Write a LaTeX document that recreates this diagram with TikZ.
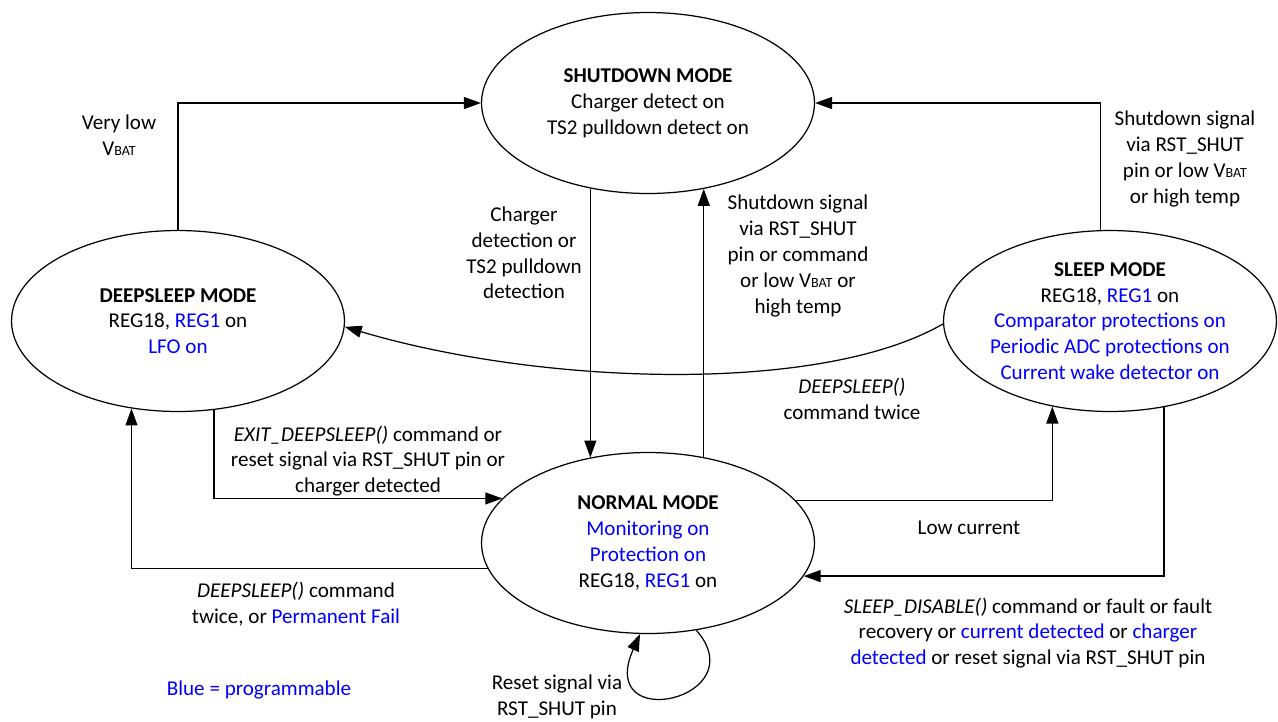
\documentclass[tikz,border=0pt]{standalone}
\usepackage{fontspec}
\setmainfont{Carlito}
\usetikzlibrary{arrows.meta,shapes.geometric}
\definecolor{progblue}{HTML}{0000FF}
\newcommand{\vbat}{V{\fontsize{8}{9}\selectfont BAT}}
\newcommand{\prog}[1]{\textcolor{progblue}{#1}}
\tikzset{
  state/.style={draw, ellipse, minimum width=6.66cm, minimum height=3.62cm,
                inner xsep=-4pt, inner ysep=0pt, align=center, line width=0.7pt},
  trans/.style={-{Triangle[length=3.4mm, width=2.4mm]}, line width=0.7pt},
  lbl/.style={align=center, inner sep=0pt},
}

\begin{document}
\begin{tikzpicture}[x=0.02cm, y=-0.02cm, font=\fontsize{12}{14.7}\selectfont]
    \useasboundingbox (0,0) rectangle (1278,721);
    \node[state] (sd) at (648,103) {\textbf{SHUTDOWN MODE}\\Charger detect on\\TS2 pulldown detect on};
    \node[state] (ds) at (178,321) {\textbf{DEEPSLEEP MODE}\\REG18, \prog{REG1} on\\\prog{LFO on}};
    \node[state] (sl) at (1110,321) {\textbf{SLEEP MODE}\\REG18, \prog{REG1} on\\\prog{Comparator protections on}\\\prog{Periodic ADC protections on}\\\prog{Current wake detector on}};
    \node[state] (nm) at (648,543) {\textbf{NORMAL MODE}\\\prog{Monitoring on}\\\prog{Protection on}\\REG18, \prog{REG1} on};
    \draw[trans] (ds.north) |- (sd.west);
    \draw[trans] (sl.96) |- (sd.east);
    \draw[trans] (sd.236) -- (nm.124);
    \draw[trans] (nm.57) -- (sd.303);
    \draw[trans] (sl.181) .. controls (820,395) and (540,385) .. (ds.358);
    \draw[trans] (nm.16) -| (sl.236);
    \draw[trans] (sl.302) |- (nm.348);
    \draw[trans] (ds.292) |- (nm.163);
    \draw[trans] (nm.189) -| (ds.242);
    \draw[trans] (nm.299) .. controls +(60,69) and +(-45,101) .. (nm.265);
    \node[lbl] (vlow) at (119,135) {Very low\\\vbat};
    \node[lbl] (chg) at (524,253) {Charger\\detection or\\TS2 pulldown\\detection};
    \node[lbl] (shd1) at (798,256) {Shutdown signal\\via RST\_SHUT\\pin or command\\or low \vbat{} or\\high temp};
    \node[lbl] (shd2) at (1185,159) {Shutdown signal\\via RST\_SHUT\\pin or low \vbat\\or high temp};
    \node[lbl] (dscmd) at (852,399) {\textit{DEEPSLEEP()}\\command twice};
    \node[lbl] (lowi) at (969,528) {Low current};
    \node[lbl] (sldis) at (1028,633) {\textit{SLEEP\_DISABLE()} command or fault or fault\\recovery or \prog{current detected} or \prog{charger}\\\prog{detected} or reset signal via RST\_SHUT pin};
    \node[lbl] (exds) at (368,461) {\textit{EXIT\_DEEPSLEEP()} command or\\reset signal via RST\_SHUT pin or\\charger detected};
    \node[lbl] (dstw) at (296,604) {\textit{DEEPSLEEP()} command\\twice, or \prog{Permanent Fail}};
    \node[lbl] (rst) at (557,697) {Reset signal via\\RST\_SHUT pin};
    \node[lbl, text=progblue] (legend) at (259,690) {Blue = programmable};
  \end{tikzpicture}
\end{document}
